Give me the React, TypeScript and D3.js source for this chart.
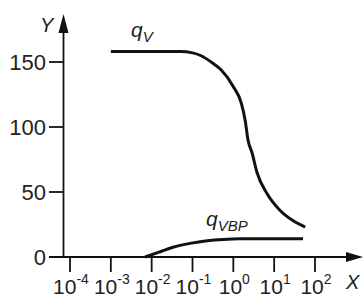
import React from 'react';
import * as d3 from 'd3';

// chart values
const xTickExps = [-4, -3, -2, -1, 0, 1, 2];
const yTicks = [0, 50, 100, 150];

const qvX = [1e-3, 1e-2, 0.05, 0.1, 0.158, 0.316, 0.5, 1, 1.58, 1.95, 2.29, 2.88, 3.8, 6.6, 13.8, 28.8, 57.5];
const qvY = [158, 158, 158, 157, 155, 149, 144, 131, 118, 105, 90, 80, 65, 49, 36, 28, 23];

const qvbpX = [0.0069, 0.0158, 0.033, 0.087, 0.23, 0.56, 1.45, 51];
const qvbpY = [0, 4, 7.5, 10.5, 12.5, 13.5, 14, 14];

const font = '"Liberation Sans", Arial, sans-serif';

const App = () => {
  const width = 364;
  const height = 298;

  // scales
  const x = d3.scaleLog().domain([1e-4, 1e2]).range([70, 315]);
  const y = d3.scaleLinear().domain([0, 150]).range([257, 62]);

  const x0 = 63.5; // y axis position
  const y0 = y(0);

  const line = d3
    .line<[number, number]>()
    .x((d) => x(d[0]))
    .y((d) => y(d[1]))
    .curve(d3.curveMonotoneX);

  const qv = qvX.map((v, i) => [v, qvY[i]] as [number, number]);
  const qvbp = qvbpX.map((v, i) => [v, qvbpY[i]] as [number, number]);

  return (
    <svg
      width={width}
      height={height}
      style={{ position: 'absolute', left: 0, top: 0, background: '#fff' }}
      fontFamily={font}
    >
      {/* y axis */}
      <line x1={x0} y1={y0} x2={x0} y2={30} stroke="#111" strokeWidth={1.8} />
      <path d={`M${x0},14 L${x0 - 5},33 L${x0 + 5},33 Z`} fill="#111" />
      {yTicks.map((t) => (
        <g key={t}>
          <line x1={49} x2={x0} y1={y(t)} y2={y(t)} stroke="#111" strokeWidth={1.8} />
          <text x={46} y={y(t) + 8} textAnchor="end" fontSize={22} fill="#222">
            {t}
          </text>
        </g>
      ))}
      <text x={40} y={32} fontSize={20} fontStyle="italic" fill="#222">
        Y
      </text>

      {/* x axis */}
      <line x1={49} x2={350} y1={y0} y2={y0} stroke="#111" strokeWidth={1.8} />
      <path d={`M363,${y0} L346,${y0 - 5} L346,${y0 + 5} Z`} fill="#111" />
      {xTickExps.map((e) => (
        <g key={e}>
          <line x1={x(10 ** e)} x2={x(10 ** e)} y1={y0} y2={y0 + 15} stroke="#111" strokeWidth={1.8} />
          <text x={x(10 ** e) + 1} y={294} textAnchor="middle" fill="#222">
            <tspan fontSize={21}>10</tspan>
            <tspan fontSize={14} dy={-10}>
              {e < 0 ? '-' + Math.abs(e) : e}
            </tspan>
          </text>
        </g>
      ))}
      <text x={346} y={289} fontSize={20} fontStyle="italic" fill="#222">
        X
      </text>

      {/* curves */}
      <path d={line(qv) || ''} fill="none" stroke="#111" strokeWidth={3} />
      <path d={line(qvbp) || ''} fill="none" stroke="#111" strokeWidth={3} />

      {/* curve labels */}
      <text x={131} y={37} fill="#222">
        <tspan fontSize={21} fontStyle="italic">q</tspan>
        <tspan fontSize={15} fontStyle="italic" dy={5}>V</tspan>
      </text>
      <text x={206} y={226} fill="#222">
        <tspan fontSize={21} fontStyle="italic">q</tspan>
        <tspan fontSize={15} fontStyle="italic" dy={5}>VBP</tspan>
      </text>
    </svg>
  );
};

export default App;
